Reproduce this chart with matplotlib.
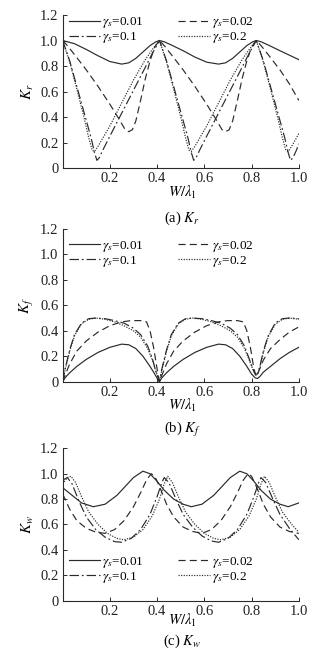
import matplotlib
matplotlib.use("Agg")
import matplotlib.pyplot as plt

plt.rcParams['font.family'] = ['Liberation Serif', 'DejaVu Serif']
plt.rcParams['mathtext.fontset'] = 'stix'
plt.rcParams['font.size'] = 10

# ---------------- data ----------------
labels = [r'$\gamma_s$=0.01', r'$\gamma_s$=0.02', r'$\gamma_s$=0.1', r'$\gamma_s$=0.2']
x_ticks = [0.2, 0.4, 0.6, 0.8, 1.0]
y_ticks = [0, 0.2, 0.4, 0.6, 0.8, 1.0, 1.2]
y_ticklabels = ['0', '0.2', '0.4', '0.6', '0.8', '1.0', '1.2']

# (a) Kr
kr_001_x = [0, 0.05, 0.1, 0.15, 0.2, 0.25, 0.28, 0.31, 0.34, 0.37, 0.395, 0.41, 0.43, 0.46, 0.51, 0.56,
            0.61, 0.66, 0.69, 0.72, 0.75, 0.78, 0.805, 0.82, 0.84, 0.87, 0.92, 0.96, 1.0]
kr_001_y = [1.0, 0.975, 0.93, 0.88, 0.835, 0.815, 0.825, 0.86, 0.91, 0.96, 0.99, 1.0, 0.99, 0.965, 0.92, 0.87,
            0.83, 0.815, 0.825, 0.86, 0.91, 0.96, 0.99, 1.0, 0.99, 0.965, 0.92, 0.885, 0.85]
kr_002_x = [0, 0.02, 0.05, 0.1, 0.15, 0.2, 0.24, 0.265, 0.28, 0.295, 0.31, 0.33, 0.35, 0.37, 0.39, 0.41,
            0.43, 0.46, 0.51, 0.56, 0.61, 0.65, 0.675, 0.69, 0.705, 0.72, 0.74, 0.76, 0.78, 0.8, 0.82,
            0.84, 0.87, 0.92, 0.96, 1.0]
kr_002_y = [1.0, 0.96, 0.89, 0.77, 0.64, 0.5, 0.38, 0.3, 0.285, 0.3, 0.37, 0.53, 0.7, 0.84, 0.95, 1.0,
            0.96, 0.89, 0.77, 0.64, 0.5, 0.38, 0.3, 0.285, 0.3, 0.37, 0.53, 0.7, 0.84, 0.95, 1.0,
            0.96, 0.89, 0.77, 0.66, 0.53]
kr_01_x = [0, 0.03, 0.06, 0.09, 0.12, 0.135, 0.145, 0.155, 0.17, 0.2, 0.25, 0.3, 0.35, 0.38, 0.41,
           0.44, 0.47, 0.5, 0.53, 0.545, 0.555, 0.565, 0.58, 0.61, 0.66, 0.71, 0.76, 0.79, 0.82,
           0.85, 0.88, 0.91, 0.94, 0.955, 0.965, 0.975, 0.99, 1.0]
kr_01_y = [1.0, 0.84, 0.64, 0.44, 0.24, 0.12, 0.06, 0.08, 0.14, 0.25, 0.43, 0.61, 0.79, 0.9, 1.0,
           0.84, 0.64, 0.44, 0.24, 0.12, 0.06, 0.08, 0.14, 0.25, 0.43, 0.61, 0.79, 0.9, 1.0,
           0.84, 0.64, 0.44, 0.24, 0.12, 0.06, 0.08, 0.14, 0.19]
kr_02_x = [0, 0.03, 0.06, 0.09, 0.11, 0.125, 0.135, 0.15, 0.2, 0.25, 0.3, 0.35, 0.38, 0.41,
           0.44, 0.47, 0.5, 0.52, 0.535, 0.545, 0.56, 0.61, 0.66, 0.71, 0.76, 0.79, 0.82,
           0.85, 0.88, 0.91, 0.93, 0.945, 0.955, 0.97, 1.0]
kr_02_y = [1.0, 0.83, 0.62, 0.4, 0.24, 0.14, 0.13, 0.17, 0.33, 0.51, 0.69, 0.85, 0.93, 1.0,
           0.83, 0.62, 0.4, 0.24, 0.14, 0.13, 0.17, 0.33, 0.51, 0.69, 0.85, 0.93, 1.0,
           0.83, 0.62, 0.4, 0.24, 0.14, 0.13, 0.17, 0.27]

# (b) Kf
kf_001_x = [0, 0.01, 0.03, 0.06, 0.1, 0.15, 0.2, 0.25, 0.28, 0.31, 0.34, 0.37, 0.39, 0.405, 0.41,
            0.42, 0.44, 0.47, 0.51, 0.56, 0.61, 0.66, 0.69, 0.72, 0.75, 0.78, 0.8, 0.815, 0.825,
            0.835, 0.85, 0.88, 0.92, 0.96, 1.0]
kf_001_y = [0.0, 0.03, 0.07, 0.12, 0.175, 0.23, 0.27, 0.295, 0.29, 0.26, 0.2, 0.12, 0.06, 0.01, 0.0,
            0.03, 0.07, 0.12, 0.175, 0.23, 0.27, 0.295, 0.29, 0.26, 0.2, 0.12, 0.06, 0.03, 0.025,
            0.04, 0.075, 0.12, 0.18, 0.23, 0.27]
kf_002_x = [0, 0.01, 0.03, 0.06, 0.1, 0.15, 0.2, 0.25, 0.29, 0.33, 0.355, 0.37, 0.385, 0.4, 0.41,
            0.42, 0.44, 0.47, 0.51, 0.56, 0.61, 0.66, 0.7, 0.74, 0.765, 0.78, 0.795, 0.81, 0.82,
            0.83, 0.85, 0.88, 0.92, 0.96, 1.0]
kf_002_y = [0.0, 0.05, 0.14, 0.24, 0.32, 0.39, 0.44, 0.47, 0.48, 0.48, 0.47, 0.4, 0.27, 0.1, 0.0,
            0.05, 0.14, 0.24, 0.32, 0.39, 0.44, 0.47, 0.48, 0.48, 0.47, 0.4, 0.27, 0.1, 0.04,
            0.08, 0.17, 0.26, 0.33, 0.39, 0.43]
kf_01_x = [0, 0.01, 0.03, 0.05, 0.08, 0.11, 0.14, 0.18, 0.22, 0.26, 0.3, 0.33, 0.36, 0.38, 0.395, 0.41,
           0.42, 0.44, 0.46, 0.49, 0.52, 0.55, 0.59, 0.63, 0.67, 0.71, 0.74, 0.77, 0.79, 0.805, 0.815,
           0.825, 0.835, 0.85, 0.87, 0.9, 0.93, 0.96, 1.0]
kf_01_y = [0.0, 0.1, 0.25, 0.37, 0.46, 0.495, 0.5, 0.495, 0.48, 0.46, 0.42, 0.37, 0.28, 0.18, 0.08, 0.0,
           0.1, 0.25, 0.37, 0.46, 0.495, 0.5, 0.495, 0.48, 0.46, 0.42, 0.37, 0.28, 0.18, 0.1, 0.06,
           0.06, 0.12, 0.24, 0.36, 0.46, 0.495, 0.5, 0.495]
kf_02_x = [0, 0.01, 0.03, 0.05, 0.08, 0.11, 0.14, 0.18, 0.22, 0.26, 0.3, 0.33, 0.36, 0.38, 0.395, 0.41,
           0.42, 0.44, 0.46, 0.49, 0.52, 0.55, 0.59, 0.63, 0.67, 0.71, 0.74, 0.77, 0.79, 0.805, 0.815,
           0.825, 0.835, 0.85, 0.87, 0.9, 0.93, 0.96, 1.0]
kf_02_y = [0.0, 0.09, 0.24, 0.36, 0.455, 0.49, 0.5, 0.49, 0.47, 0.44, 0.4, 0.35, 0.26, 0.17, 0.08, 0.0,
           0.09, 0.24, 0.36, 0.455, 0.49, 0.5, 0.49, 0.47, 0.44, 0.4, 0.35, 0.26, 0.17, 0.1, 0.06,
           0.06, 0.11, 0.23, 0.35, 0.45, 0.49, 0.5, 0.49]

# (c) Kw
kw_001_x = [0, 0.04, 0.08, 0.13, 0.18, 0.23, 0.27, 0.3, 0.34, 0.37, 0.4, 0.43, 0.47, 0.51, 0.545,
            0.59, 0.64, 0.68, 0.71, 0.75, 0.78, 0.81, 0.84, 0.88, 0.92, 0.955, 1.0]
kw_001_y = [0.89, 0.83, 0.77, 0.74, 0.76, 0.83, 0.91, 0.97, 1.02, 1.0, 0.94, 0.87, 0.8, 0.76, 0.74,
            0.76, 0.83, 0.91, 0.97, 1.02, 1.0, 0.94, 0.87, 0.8, 0.76, 0.74, 0.77]
kw_002_x = [0, 0.03, 0.06, 0.1, 0.14, 0.18, 0.22, 0.26, 0.3, 0.33, 0.355, 0.375, 0.39, 0.41, 0.44,
            0.47, 0.51, 0.55, 0.59, 0.63, 0.67, 0.71, 0.74, 0.765, 0.785, 0.8, 0.82, 0.85, 0.88,
            0.92, 0.96, 1.0]
kw_002_y = [0.84, 0.72, 0.63, 0.57, 0.54, 0.53, 0.56, 0.63, 0.74, 0.85, 0.95, 1.0, 0.98, 0.9, 0.76,
            0.66, 0.58, 0.545, 0.53, 0.56, 0.63, 0.74, 0.85, 0.95, 1.0, 0.98, 0.9, 0.76, 0.66,
            0.58, 0.545, 0.53]
kw_01_x = [0, 0.02, 0.04, 0.07, 0.1, 0.14, 0.18, 0.22, 0.25, 0.29, 0.33, 0.37, 0.4, 0.42, 0.43,
           0.45, 0.48, 0.51, 0.55, 0.59, 0.63, 0.66, 0.7, 0.74, 0.78, 0.81, 0.83, 0.84, 0.86, 0.89,
           0.92, 0.96, 1.0]
kw_01_y = [0.95, 0.97, 0.92, 0.78, 0.66, 0.56, 0.5, 0.465, 0.46, 0.49, 0.56, 0.68, 0.82, 0.93, 0.97,
           0.93, 0.8, 0.68, 0.58, 0.51, 0.47, 0.46, 0.49, 0.56, 0.68, 0.82, 0.93, 0.97, 0.93, 0.8,
           0.68, 0.57, 0.48]
kw_02_x = [0, 0.02, 0.035, 0.055, 0.08, 0.11, 0.15, 0.19, 0.23, 0.26, 0.3, 0.34, 0.38, 0.41, 0.43,
           0.445, 0.465, 0.49, 0.52, 0.56, 0.6, 0.64, 0.67, 0.71, 0.75, 0.79, 0.82, 0.84, 0.855,
           0.875, 0.9, 0.93, 0.97, 1.0]
kw_02_y = [0.92, 0.97, 0.98, 0.93, 0.82, 0.7, 0.6, 0.53, 0.49, 0.48, 0.5, 0.56, 0.67, 0.8, 0.92,
           0.98, 0.93, 0.82, 0.7, 0.6, 0.53, 0.49, 0.48, 0.5, 0.56, 0.67, 0.8, 0.92, 0.98,
           0.93, 0.82, 0.7, 0.6, 0.54]

panels = [
    dict(series=[(kr_001_x, kr_001_y), (kr_002_x, kr_002_y), (kr_01_x, kr_01_y), (kr_02_x, kr_02_y)],
         ylabel=r'$K_r$', caption=r'(a) $K_r$', legend_y=0.997),
    dict(series=[(kf_001_x, kf_001_y), (kf_002_x, kf_002_y), (kf_01_x, kf_01_y), (kf_02_x, kf_02_y)],
         ylabel=r'$K_f$', caption=r'(b) $K_f$', legend_y=0.937),
    dict(series=[(kw_001_x, kw_001_y), (kw_002_x, kw_002_y), (kw_01_x, kw_01_y), (kw_02_x, kw_02_y)],
         ylabel=r'$K_w$', caption=r'(c) $K_w$', legend_y=0.30),
]

styles = ['-', (0, (6, 3.5)), (0, (8, 2.5, 1.5, 2.5)), (0, (1, 1.2))]
color = '#2a2a2a'

fig = plt.figure(figsize=(3.28, 6.55), dpi=100)
axes_rects = [
    [0.191, 0.7435, 0.720, 0.2336],
    [0.191, 0.4173, 0.720, 0.2331],
    [0.191, 0.0830, 0.720, 0.2325],
]
caption_y = [1 - 218 / 655, 1 - 429 / 655, 1 - 641 / 655]
xlabel_y = [1 - 192 / 655, 1 - 405 / 655, 1 - 620 / 655]

for rect, p, cy, xy in zip(axes_rects, panels, caption_y, xlabel_y):
    ax = fig.add_axes(rect)
    handles = []
    for (xs, ys), ls, lab in zip(p['series'], styles, labels):
        h, = ax.plot(xs, ys, linestyle=ls, color=color, lw=0.85, label=lab)
        handles.append(h)
    ax.set_xlim(0, 1.0)
    ax.set_ylim(0, 1.2)
    ax.set_xticks(x_ticks)
    ax.set_xticklabels(['0.2', '0.4', '0.6', '0.8', '1.0'])
    ax.set_yticks(y_ticks)
    ax.set_yticklabels(y_ticklabels)
    for s in ['top', 'right']:
        ax.spines[s].set_visible(False)
    for s in ['left', 'bottom']:
        ax.spines[s].set_linewidth(0.8)
        ax.spines[s].set_color(color)
    ax.tick_params(direction='in', length=3, width=0.7, labelsize=10.5, colors=color,
                   labelcolor='#222222', pad=3)
    ax.set_ylabel(p['ylabel'], fontsize=11, labelpad=3)
    order = [0, 2, 1, 3]
    ax.legend([handles[i] for i in order], [labels[i] for i in order],
              ncol=2, frameon=False, loc='upper left', bbox_to_anchor=(0.025, p['legend_y']),
              fontsize=9.5, handlelength=2.4, handletextpad=0.15, columnspacing=2.6,
              labelspacing=0.0, borderpad=0.0, borderaxespad=0.0)
    fig.text(0.555, xy, r'$W/\lambda_1$', ha='center', va='center', fontsize=10.5)
    fig.text(0.555, cy, p['caption'], ha='center', va='center', fontsize=10.5)

fig.savefig('out.png', dpi=100, facecolor='white')
